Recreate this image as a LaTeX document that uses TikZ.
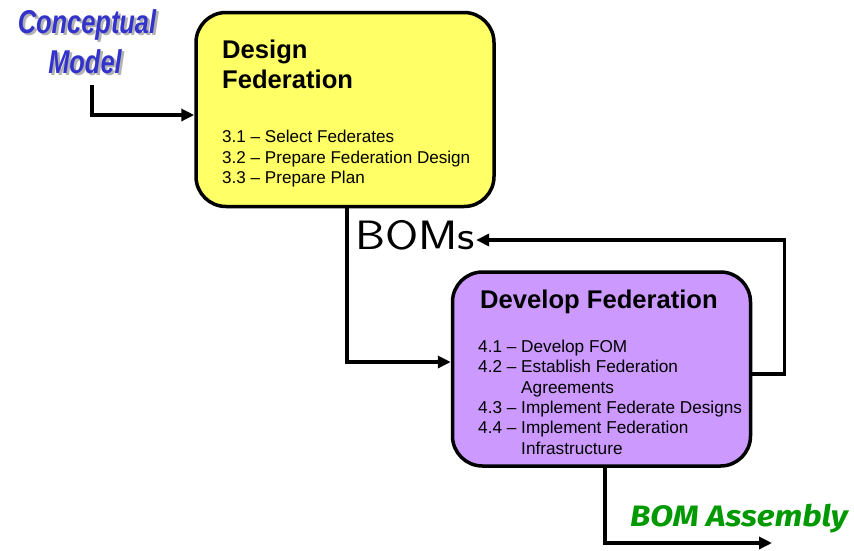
\documentclass[tikz,border=0pt]{standalone}
\usepackage{fontspec}
\setmainfont{Liberation Sans}
\newfontfamily\greenfont{Fira Sans}
\usetikzlibrary{arrows.meta,calc}

\definecolor{designfill}{RGB}{255,255,102}
\definecolor{developfill}{RGB}{204,153,255}
\definecolor{modelblue}{RGB}{51,51,204}
\definecolor{outgreen}{RGB}{0,153,0}

% condensed heading word with a soft grey drop shadow behind it
\newcommand{\shadowword}[1]{%
  \makebox[0pt][l]{\hspace{2.5pt}\raisebox{-2.5pt}{\textcolor{black!30}{\scalebox{0.77}[1]{#1}}}}%
  \textcolor{modelblue}{\scalebox{0.77}[1]{#1}}}

\tikzset{
  phasebox/.style={draw=black, line width=3.5pt, rounded corners=30pt,
    minimum width=298pt, minimum height=194pt},
  phasetitle/.style={anchor=north west, inner sep=0pt, align=left,
    font=\fontsize{25.6}{30}\selectfont\bfseries},
  phaseitems/.style={anchor=north west, inner sep=0pt, align=left,
    font=\fontsize{17.1}{20.6}\selectfont},
  flow/.style={line width=3.5pt, -{Triangle[length=13pt,width=12pt]}},
  modeltext/.style={inner sep=0pt, anchor=base,
    font=\fontsize{33}{33}\selectfont\bfseries\itshape},
}

\begin{document}
\begin{tikzpicture}[x=1pt,y=-1pt]
\useasboundingbox (0,0) rectangle (854,550);

% Conceptual model label
\node[modeltext] (concept) at (87,33) {\shadowword{Conceptual}};
\node[modeltext] (model) at (85,73) {\shadowword{Model}};
\coordinate (cmstart) at (92,85);

% Phase 3: Design Federation
\node[phasebox, fill=designfill] (design) at (345,109.5) {};
\node[phasetitle] (designtitle) at (222,40) {Design\\Federation};
\node[phaseitems] (designitems) at (222,130)
  {3.1 -- Select Federates\\3.2 -- Prepare Federation Design\\3.3 -- Prepare Plan};

% Phase 4: Develop Federation
\node[phasebox, fill=developfill] (develop) at (601.5,369) {};
\node[phasetitle] (developtitle) at (480,290) {Develop Federation};
\node[phaseitems, font=\fontsize{17.2}{20.3}\selectfont] (developitems) at (478,340)
  {4.1 -- Develop FOM\\
   4.2 -- Establish Federation\\
   \phantom{4.2 -- }Agreements\\
   4.3 -- Implement Federate Designs\\
   4.4 -- Implement Federation\\
   \phantom{4.4 -- }Infrastructure};

% BOMs product label
\node[fill=white, inner sep=1pt, font=\sffamily\fontsize{41}{41}\selectfont]
  (boms) at (415,235) {\scalebox{1.17}[1]{BOMs}};

% output label
\node[inner sep=0pt, anchor=base, text=outgreen,
  font=\greenfont\fontsize{29.5}{29.5}\selectfont\bfseries\itshape]
  (assembly) at (739,526) {\scalebox{1.13}[1]{BOM Assembly}};
\coordinate (outend) at (772,543);

% connectors
\draw[flow] (cmstart) |- ([yshift=-5.5pt]design.west);
\draw[flow] ([xshift=2pt]design.south) |- ([yshift=7pt]develop.west);
\draw[flow] ([yshift=-5pt]develop.east) -- ++(32,0) |- ([yshift=-5pt]boms.east);
\draw[flow] ([xshift=3.5pt]develop.south) |- (outend);
\end{tikzpicture}
\end{document}
